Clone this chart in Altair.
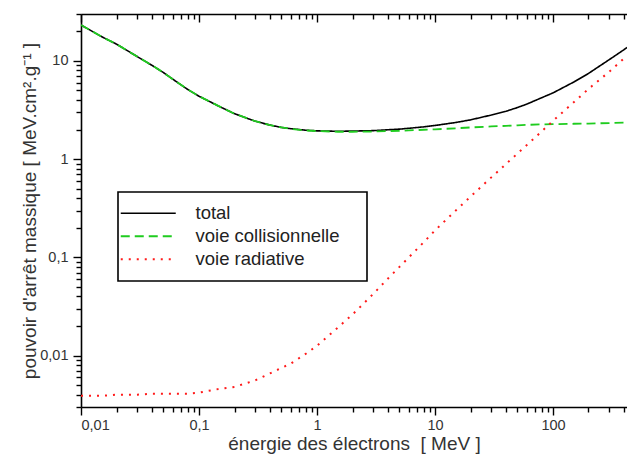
import altair as alt
import pandas as pd

# Electron energy (MeV)
energy = [0.01, 0.015, 0.02, 0.03, 0.04, 0.05, 0.06, 0.08, 0.1, 0.15, 0.2, 0.3,
          0.4, 0.5, 0.6, 0.8, 1, 1.5, 2, 3, 4, 5, 6, 8, 10, 15, 20, 30, 40, 50,
          60, 80, 100, 150, 200, 300, 400, 424]
# Mass stopping power (MeV.cm2/g)
total = [23.2, 17.6, 14.8, 11.05, 9.0, 7.6, 6.51, 5.13, 4.37, 3.42, 2.90, 2.43,
         2.22, 2.10, 2.04, 1.97, 1.94, 1.92, 1.93, 1.95, 1.99, 2.02, 2.06, 2.13,
         2.20, 2.36, 2.51, 2.81, 3.07, 3.35, 3.63, 4.21, 4.72, 6.09, 7.45, 10.3,
         13.0, 13.7]
collision = [23.2, 17.6, 14.8, 11.05, 9.0, 7.6, 6.51, 5.13, 4.37, 3.42, 2.90, 2.43,
             2.22, 2.10, 2.03, 1.96, 1.93, 1.90, 1.90, 1.91, 1.93, 1.94, 1.96, 1.99,
             2.01, 2.06, 2.10, 2.15, 2.18, 2.21, 2.23, 2.26, 2.27, 2.29, 2.30, 2.33,
             2.35, 2.36]
radiative = [0.0039, 0.0039, 0.0040, 0.0040, 0.0041, 0.0041, 0.0041, 0.0041, 0.0042,
             0.0046, 0.0048, 0.0056, 0.0066, 0.0075, 0.0083, 0.0104, 0.0126, 0.0193,
             0.0262, 0.0425, 0.0610, 0.080, 0.100, 0.142, 0.188, 0.30, 0.415, 0.652,
             0.892, 1.14, 1.39, 1.91, 2.45, 3.79, 5.18, 7.76, 10.6, 11.3]
series = ["total", "voie collisionnelle", "voie radiative"]

x_major = [0.01, 0.1, 1, 10, 100]
x_minor = [0.02, 0.03, 0.04, 0.05, 0.06, 0.07, 0.08, 0.09,
           0.2, 0.3, 0.4, 0.5, 0.6, 0.7, 0.8, 0.9,
           2, 3, 4, 5, 6, 7, 8, 9,
           20, 30, 40, 50, 60, 70, 80, 90,
           200, 300, 400]
y_major = [0.01, 0.1, 1, 10]
y_minor = [0.003, 0.004, 0.005, 0.006, 0.007, 0.008, 0.009,
           0.02, 0.03, 0.04, 0.05, 0.06, 0.07, 0.08, 0.09,
           0.2, 0.3, 0.4, 0.5, 0.6, 0.7, 0.8, 0.9,
           2, 3, 4, 5, 6, 7, 8, 9, 20, 30]

rows = []
for name, vals in zip(series, [total, collision, radiative]):
    for e, v in zip(energy, vals):
        rows.append({"energie": e, "valeur": v, "serie": name})
df = pd.DataFrame(rows)

W, H = 546, 393
FONT = "Liberation Sans"
xs = alt.Scale(type="log", domain=[0.01, 424], nice=False)
ys = alt.Scale(type="log", domain=[0.003, 30], nice=False)
lab = "replace(format(datum.value, '~g'), '.', ',')"

leg = alt.Legend(
    orient="none", legendX=37, legendY=178, title=None,
    symbolType="M-5,0H5", symbolSize=121, symbolStrokeWidth=1.6,
    symbolOffset=9, labelOffset=38,
    labelFontSize=18.5, labelFont=FONT, labelColor="#222222", labelLimit=500,
    padding=12, rowPadding=4, strokeColor="black", fillColor="white",
    labelExpr="datum.label + '\u00a0\u00a0\u00a0\u200b'",
)

lines = alt.Chart(df).mark_line(clip=True).encode(
    x=alt.X("energie:Q", scale=xs,
            axis=alt.Axis(orient="bottom", values=x_major, tickSize=8, labelExpr=lab,
                          labelPadding=3, title="énergie des électrons \u00a0[ MeV ]",
                          titlePadding=3)),
    y=alt.Y("valeur:Q", scale=ys,
            axis=alt.Axis(orient="left", values=y_major, tickSize=8, labelExpr=lab,
                          labelPadding=5,
                          title="pouvoir d'arrêt massique [ MeV.cm².g⁻¹ ]",
                          titlePadding=0)),
    color=alt.Color("serie:N", scale=alt.Scale(domain=series,
                    range=["#000000", "#1fcc1f", "#ff1a1a"]), legend=leg),
    strokeDash=alt.StrokeDash("serie:N", scale=alt.Scale(domain=series,
                              range=[[1, 0], [9, 5], [2, 6]]), legend=leg),
    strokeWidth=alt.StrokeWidth("serie:N", scale=alt.Scale(domain=series,
                                range=[1.6, 2, 2.2]), legend=None),
)

minor_bl = alt.Chart(df).mark_point(opacity=0).encode(
    x=alt.X("energie:Q", scale=xs,
            axis=alt.Axis(orient="bottom", values=x_minor, tickSize=5, labels=False,
                          domain=False, title=None)),
    y=alt.Y("valeur:Q", scale=ys,
            axis=alt.Axis(orient="left", values=y_minor, tickSize=5, labels=False,
                          domain=False, title=None)),
)

top_major = alt.Chart(df).mark_point(opacity=0).encode(
    x=alt.X("energie:Q", scale=xs,
            axis=alt.Axis(orient="bottom", offset=-H, values=x_major, tickSize=8,
                          labels=False, domain=True, title=None)),
    y=alt.Y("valeur:Q", scale=ys, axis=None),
)

top_minor = alt.Chart(df).mark_point(opacity=0).encode(
    x=alt.X("energie:Q", scale=xs,
            axis=alt.Axis(orient="bottom", offset=-H, values=x_minor, tickSize=5,
                          labels=False, domain=False, title=None)),
    y=alt.Y("valeur:Q", scale=ys, axis=None),
)

chart = alt.layer(lines, minor_bl, top_major, top_minor).resolve_axis(
    x="independent", y="independent"
).properties(
    width=W, height=H, autosize="none",
    padding={"left": 81, "top": 14, "right": 0, "bottom": 52},
).configure_view(stroke=None).configure_axis(
    grid=False, domainColor="black", domainWidth=1.6, tickColor="black",
    tickWidth=1.4, labelFont=FONT, labelFontSize=14.5, labelColor="#333333",
    titleFont=FONT, titleFontSize=19, titleFontWeight="normal", titleColor="#333333",
).configure_legend(strokeWidth=1.6)

chart.save("out.html", embed_options={"renderer": "svg", "actions": False})
